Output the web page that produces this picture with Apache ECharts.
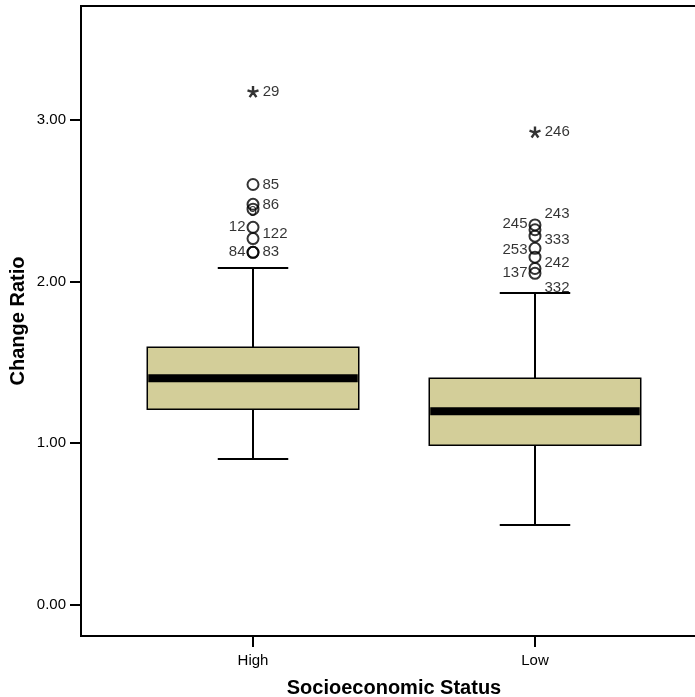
<!DOCTYPE html>
<html>
<head>
<meta charset="utf-8">
<script src="https://cdn.jsdelivr.net/npm/echarts@6/dist/echarts.min.js"></script>
<style>
html,body{margin:0;padding:0;background:#fff;}
#chart{width:695px;height:697px;}
</style>
</head>
<body>
<div id="chart"></div>
<script>
// ---- data ----
var categories = ['High', 'Low'];
var whiskerLow  = [0.900, 0.492];
var q1          = [1.209, 0.986];
var medians     = [1.401, 1.197];
var q3          = [1.592, 1.401];
var whiskerHigh = [2.083, 1.928];

var yTicks = [0, 1, 2, 3];

// outliers (circles)
var highOutlierIds  = ['85', '86', '9', '12', '122', '84', '83'];
var highOutlierVals = [2.600, 2.477, 2.447, 2.335, 2.265, 2.180, 2.180];
var lowOutlierIds   = ['245', '243', '333', '253', '242', '137', '332'];
var lowOutlierVals  = [2.350, 2.320, 2.280, 2.205, 2.150, 2.050, 2.080];

// extreme values (stars)
var highExtremeIds  = ['29'];
var highExtremeVals = [3.175];
var lowExtremeIds   = ['246'];
var lowExtremeVals  = [2.925];

// ---- label layout (placement only) ----
var highLabelSide = ['right', 'right', 'inside', 'left', 'right', 'left', 'right'];
var highLabelDy   = [0, 0, 3, 0, -5, 0, 0];
var lowLabelSide  = ['left', 'right', 'right', 'left', 'right', 'left', 'right'];
var lowLabelDy    = [-1, -16, 4, 2, 6, 0, 19];

var FONT = '"Liberation Sans", Arial, Helvetica, sans-serif';

var boxData = categories.map(function (c, i) {
  return [i + 1, whiskerLow[i], q1[i], medians[i], q3[i], whiskerHigh[i]];
});

function outlierItems(xv, ids, vals, sides, dys) {
  return ids.map(function (id, i) {
    var side = sides ? sides[i] : 'right';
    return {
      value: [xv, vals[i], id],
      label: {
        show: true,
        position: side,
        distance: side === 'left' ? 1 : 3,
        offset: [0, dys ? dys[i] : 0],
        formatter: id
      }
    };
  });
}

var circleData = outlierItems(1, highOutlierIds, highOutlierVals, highLabelSide, highLabelDy)
  .concat(outlierItems(2, lowOutlierIds, lowOutlierVals, lowLabelSide, lowLabelDy));
var starData = outlierItems(1, highExtremeIds, highExtremeVals, null, null)
  .concat(outlierItems(2, lowExtremeIds, lowExtremeVals, null, null));

var chart = echarts.init(document.getElementById('chart'), null, {renderer: 'canvas'});

var option = {
  animation: false,
  backgroundColor: '#fff',
  textStyle: {fontFamily: FONT},
  grid: {
    left: 81, top: 6, right: -12, bottom: 61,
    outerBoundsMode: 'none',
    containLabel: false,
    show: true, borderColor: '#000', borderWidth: 2, backgroundColor: 'transparent'
  },
  xAxis: {
    type: 'value',
    min: 0.39, max: 2.61,
    splitLine: {show: false},
    axisLine: {show: true, onZero: false, lineStyle: {color: '#000', width: 2}},
    axisTick: {show: true, customValues: [1, 2], length: 11, lineStyle: {color: '#000', width: 2}},
    axisLabel: {
      customValues: [1, 2], margin: 17, color: '#000', fontSize: 15, fontFamily: FONT,
      formatter: function (v) { return categories[Math.round(v) - 1] || ''; }
    },
    name: 'Socioeconomic Status',
    nameLocation: 'middle',
    nameGap: 42,
    nameMoveOverlap: false,
    nameTextStyle: {color: '#000', fontSize: 20, fontWeight: 'bold', fontFamily: FONT}
  },
  yAxis: {
    type: 'value',
    min: -0.195, max: 3.705,
    splitLine: {show: false},
    axisLine: {show: true, onZero: false, lineStyle: {color: '#000', width: 2}},
    axisTick: {show: true, customValues: yTicks, length: 11, lineStyle: {color: '#000', width: 2}},
    axisLabel: {
      customValues: yTicks, margin: 15, color: '#000', fontSize: 15, fontFamily: FONT,
      formatter: function (v) { return v.toFixed(2); }
    },
    name: 'Change Ratio',
    nameLocation: 'middle',
    nameGap: 53,
    nameMoveOverlap: false,
    nameTextStyle: {color: '#000', fontSize: 20, fontWeight: 'bold', fontFamily: FONT}
  },
  series: [
    {
      type: 'custom',
      data: boxData,
      encode: {x: 0, y: [1, 2, 3, 4, 5]},
      clip: false,
      renderItem: function (params, api) {
        var x = api.value(0);
        var unit = api.size([1, 0])[0];
        var boxW = unit * 0.75;
        var capW = unit * 0.25;
        var pWL = api.coord([x, api.value(1)]);
        var pQ1 = api.coord([x, api.value(2)]);
        var pMed = api.coord([x, api.value(3)]);
        var pQ3 = api.coord([x, api.value(4)]);
        var pWH = api.coord([x, api.value(5)]);
        var cx = pMed[0];
        var lineStyle = {stroke: '#000', lineWidth: 2};
        return {
          type: 'group',
          children: [
            {type: 'line', shape: {x1: cx, y1: pQ1[1], x2: cx, y2: pWL[1]}, style: lineStyle},
            {type: 'line', shape: {x1: cx, y1: pQ3[1], x2: cx, y2: pWH[1]}, style: lineStyle},
            {type: 'line', shape: {x1: cx - capW / 2, y1: pWL[1], x2: cx + capW / 2, y2: pWL[1]}, style: lineStyle},
            {type: 'line', shape: {x1: cx - capW / 2, y1: pWH[1], x2: cx + capW / 2, y2: pWH[1]}, style: lineStyle},
            {type: 'rect', shape: {x: cx - boxW / 2, y: pQ3[1], width: boxW, height: pQ1[1] - pQ3[1]},
             style: {fill: '#D3CE99', stroke: '#000', lineWidth: 1.5}},
            {type: 'line', shape: {x1: cx - boxW / 2 + 1, y1: pMed[1], x2: cx + boxW / 2 - 1, y2: pMed[1]},
             style: {stroke: '#000', lineWidth: 8}}
          ]
        };
      }
    },
    {
      type: 'scatter',
      data: circleData,
      symbol: 'circle',
      symbolSize: 11,
      itemStyle: {color: 'transparent', borderColor: '#000', borderWidth: 2},
      label: {color: '#000', fontSize: 15, fontFamily: FONT},
      z: 5
    },
    {
      type: 'scatter',
      data: starData,
      symbol: 'path://M0,-5L0,0M4.75,-1.55L0,0M2.94,4.05L0,0M-2.94,4.05L0,0M-4.75,-1.55L0,0',
      symbolSize: 11,
      itemStyle: {color: 'transparent', borderColor: '#000', borderWidth: 2.4},
      label: {color: '#000', fontSize: 15, fontFamily: FONT, distance: 4},
      z: 5
    }
  ]
};
chart.setOption(option);
</script>
</body>
</html>
